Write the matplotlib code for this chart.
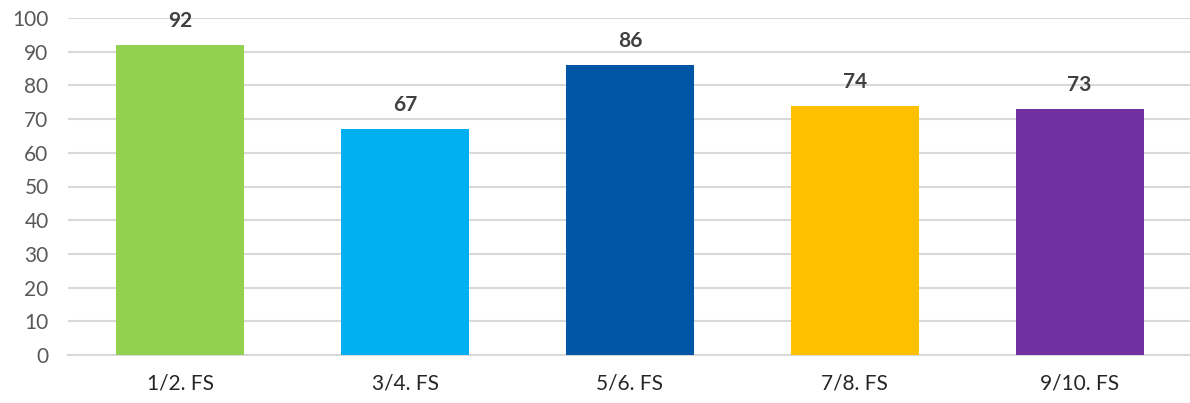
import matplotlib.pyplot as plt

categories = ['1/2. FS', '3/4. FS', '5/6. FS', '7/8. FS', '9/10. FS']
values = [92, 67, 86, 74, 73]
colors = ['#92D050', '#00B0F0', '#0056A4', '#FFC000', '#7030A0']
yticks = [0, 10, 20, 30, 40, 50, 60, 70, 80, 90, 100]

plt.rcParams['font.family'] = ['Lato', 'DejaVu Sans']

fig = plt.figure(figsize=(11.9, 4.03), dpi=100)
ax = fig.add_axes([68 / 1190, 48 / 403, 1124 / 1190, 337 / 403])

x = range(len(categories))
bars = ax.bar(x, values, width=0.57, color=colors, zorder=3)

# 数据标签
for b, v in zip(bars, values):
    ax.annotate(str(v), (b.get_x() + b.get_width() / 2, v), xytext=(0, 10),
                textcoords='offset points', ha='center', va='bottom',
                fontsize=15, fontweight='bold', color='#404040')

ax.set_xlim(-0.5, len(categories) - 0.5)
ax.set_ylim(0, 100)
ax.set_yticks(yticks)
ax.set_xticks(list(x))
ax.set_xticklabels(categories)
ax.yaxis.grid(True, color='#D9D9D9', linewidth=1.5, zorder=0)
ax.tick_params(axis='both', length=0, labelsize=15, labelcolor='#595959')
ax.tick_params(axis='x', labelcolor='#262626', pad=13)
ax.tick_params(axis='y', pad=14)
for s in ['top', 'right', 'left']:
    ax.spines[s].set_visible(False)
ax.spines['bottom'].set_color('#D9D9D9')
ax.spines['bottom'].set_linewidth(1.5)

fig.savefig('out.png', dpi=100)
